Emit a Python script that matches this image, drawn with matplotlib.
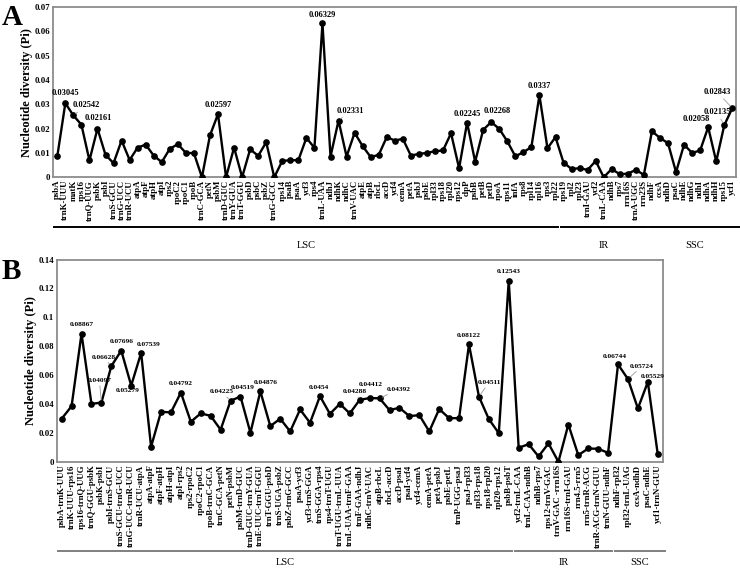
import numpy as np
import matplotlib.pyplot as plt
import matplotlib.transforms as mtransforms

plt.rcParams['font.family'] = ['Liberation Serif', 'DejaVu Serif']
plt.rcParams['font.weight'] = 'bold'

# ---- panel A: genes ----
genes_a = ['psbA', 'trnK-UUU', 'matK', 'rps16', 'trnQ-UUG', 'psbK', 'psbI', 'trnS-GCU',
           'trnG-UCC', 'trnR-UCU', 'atpA', 'atpF', 'atpH', 'atpI', 'rps2', 'rpoC2', 'rpoC1',
           'rpoB', 'trnC-GCA', 'petN', 'psbM', 'trnD-GUC', 'trnY-GUA', 'trnT-GGU', 'psbD',
           'psbC', 'psbZ', 'trnG-GCC', 'rps14', 'psaB', 'psaA', 'ycf3', 'rps4', 'trnL-UAA',
           'ndhJ', 'ndhK', 'ndhC', 'trnV-UAC', 'atpE', 'atpB', 'rbcL', 'accD', 'ycf4', 'cemA',
           'petA', 'psbJ', 'psbE', 'rpl33', 'rps18', 'rpl20', 'rps12', 'clpP', 'psbB', 'petB',
           'petD', 'rpoA', 'rps11', 'infA', 'rps8', 'rpl14', 'rpl16', 'rps3', 'rpl22',
           'rps19', 'rpl2', 'rpl23', 'trnI-GAU', 'ycf2', 'trnL-CAA', 'ndhB', 'rps7', 'rrn16S',
           'trnA-UGC', 'rrn23S',
           'ndhF', 'ccsA', 'ndhD', 'psaC', 'ndhE', 'ndhG', 'ndhI', 'ndhA', 'ndhH', 'rps15', 'ycf1']
pi_a = [0.0086, 0.03045, 0.02542, 0.02161, 0.0069, 0.0200, 0.0092, 0.0058, 0.0151, 0.0071,
        0.0122, 0.0134, 0.0089, 0.0062, 0.0117, 0.0136, 0.0100, 0.0099, 0.0, 0.0172,
        0.02597, 0.0, 0.0122, 0.0, 0.0115, 0.0088, 0.0144, 0.0, 0.0067, 0.0070,
        0.0070, 0.0162, 0.0121, 0.06329, 0.0085, 0.02331, 0.0085, 0.0183, 0.0128, 0.0083,
        0.0092, 0.0165, 0.0151, 0.0158, 0.0089, 0.0096, 0.0100, 0.0107, 0.0110, 0.0181,
        0.0037, 0.02245, 0.0064, 0.0195, 0.02268, 0.0199, 0.0148, 0.0086, 0.0103, 0.0124,
        0.0337, 0.0119, 0.0165,
        0.0060, 0.0034, 0.0037, 0.0030, 0.0067, 0.0, 0.0034, 0.0012, 0.0015, 0.0030, 0.0010,
        0.0189, 0.0162, 0.0140, 0.0021, 0.0134, 0.0100, 0.0110, 0.02058, 0.0065, 0.02135,
        0.02843]
regions_a = [('LSC', 1, 63), ('IR', 64, 74), ('SSC', 75, 85)]
# (point number, label, dx px, dy px, leader line)
notes_a = [(2, '0.03045', 0, 10, False), (3, '0.02542', 13, 10, True),
           (4, '0.02161', 17, 7, False), (21, '0.02597', 0, 9, False),
           (34, '0.06329', 0, 8, False), (36, '0.02331', 12, 10, True),
           (52, '0.02245', 0, 9, False), (55, '0.02268', 6, 11, False),
           (61, '0.0337', 0, 9, False), (82, '0.02058', -12, 8, False),
           (84, '0.02135', -7, 13, True), (85, '0.02843', -15, 16, True)]

# ---- panel B: intergenic regions ----
spacers_b = ['psbA-trnK-UUU', 'trnK-UUU-rps16', 'rps16-trnQ-UUG', 'trnQ-GGU-psbK', 'psbK-psbI',
             'psbI-trnS-GCU', 'trnS-GCU-trnG-UCC', 'trnG-UCC-trnR-UCU', 'trnR-UCU-atpA',
             'atpA-atpF', 'atpF-atpH', 'atpH-atpI', 'atpI-rps2', 'rps2-rpoC2', 'rpoC2-rpoC1',
             'rpoB-trnC-GCA', 'trnC-GCA-petN', 'petN-psbM', 'psbM-trnD-GUC',
             'trnD-GUC-trnY-GUA', 'trnE-UUC-trnT-GGU', 'trnT-GGU-psbD', 'trnS-UGA-psbZ',
             'psbZ-trnG-GCC', 'psaA-ycf3', 'ycf3-trnS-GGA', 'trnS-GGA-rps4', 'rps4-trnT-UGU',
             'trnT-UGU-trnL-UUA', 'trnL-UAA-trnF-GAA', 'trnF-GAA-ndhJ', 'ndhC-trnV-UAC',
             'atpB-rbcL', 'rbcL-accD', 'accD-psaI', 'psaI-ycf4', 'ycf4-cemA', 'cemA-petA',
             'petA-psbJ', 'psbE-petL', 'trnP-UGG-psaJ', 'psaJ-rpl33', 'rpl33-rps18',
             'rps18-rpl20', 'rpl20-rps12', 'psbB-psbT',
             'ycf2-trnL-CAA', 'trnL-CAA-ndhB', 'ndhB-rps7', 'rps12-trnV-GAC', 'trnV-GAC -rrn16S',
             'rrn16S-trnI-GAU', 'rrn4.5-rrn5', 'rrn5-trnR-ACG', 'trnR-ACG-trnN-GUU',
             'trnN-GUU-ndhF',
             'ndhF-rpl32', 'rpl32-trnL-UAG', 'ccsA-ndhD', 'psaC-ndhE', 'ycf1-trnN-GUU']
pi_b = [0.0298, 0.0385, 0.08867, 0.0401, 0.04097, 0.06628, 0.07696, 0.05279, 0.07539, 0.0104,
        0.0346, 0.0342, 0.04792, 0.0277, 0.0335, 0.0318, 0.0222, 0.04225, 0.04519, 0.0201,
        0.04876, 0.0247, 0.0298, 0.0210, 0.0362, 0.0270, 0.0454, 0.0332, 0.0401, 0.0335,
        0.04288, 0.04412, 0.04392, 0.0358, 0.0374, 0.0316, 0.0323, 0.0210, 0.0365, 0.0302,
        0.0302, 0.08122, 0.04511, 0.0295, 0.0198, 0.12543,
        0.0097, 0.0122, 0.0037, 0.0127, 0.0, 0.0258, 0.0046, 0.0092, 0.0090, 0.0062,
        0.06744, 0.05724, 0.0369, 0.05529, 0.0051]
regions_b = [('LSC', 1, 46), ('IR', 47, 56), ('SSC', 57, 61)]
notes_b = [(3, '0.08867', 0, 9, False), (5, '0.04097', -2, 22, True),
           (6, '0.06628', -8, 9, True), (7, '0.07696', 0, 9, False),
           (8, '0.05279', -4, -5, False), (9, '0.07539', 7, 8, False),
           (13, '0.04792', 0, 9, False), (18, '0.04225', -9, 9, True),
           (19, '0.04519', 2, 9, False), (21, '0.04876', 5, 9, False),
           (27, '0.0454', -1, 9, False), (31, '0.04288', -5, 8, True),
           (32, '0.04412', 1, 14, False), (33, '0.04392', 19, 9, True),
           (42, '0.08122', 0, 9, False), (43, '0.04511', 10, 14, True),
           (46, '0.12543', 0, 9, False), (57, '0.06744', -3, 8, False),
           (58, '0.05724', 14, 13, True), (60, '0.05529', 5, 5, False)]


def draw_panel(ax, labels, vals, notes, regions, ymax, ystep, line_y, text_y, reg_col,
               right_ext, note_size):
    x = np.arange(1, len(vals) + 1)
    ax.plot(x, vals, color='black', lw=1.7, marker='o', ms=3.8, zorder=3)
    ax.set_xlim(0.5, len(vals) + 0.5)
    ax.set_ylim(0, ymax)
    ax.set_xticks(x)
    ax.set_xticklabels(labels, rotation=90, fontsize=6.3, fontweight='bold')
    yt = np.arange(0, ymax + ystep / 2, ystep)
    ax.set_yticks(yt)
    ax.set_yticklabels(['%g' % round(v, 3) for v in yt], fontsize=6.3, fontweight='bold')
    ax.tick_params(length=0, pad=2)
    for s in ax.spines.values():
        s.set_color('#8c8c8c')
        s.set_linewidth(1.3)
    ax.set_ylabel('Nucleotide diversity (Pi)', fontsize=9, fontweight='bold', labelpad=1)

    for i, txt, dx, dy, lead in notes:
        ap = dict(arrowstyle='-', color='#999999', lw=0.6, shrinkA=0, shrinkB=2) if lead else None
        ax.annotate(txt, xy=(i, vals[i - 1]), xytext=(dx, dy), textcoords='offset pixels',
                    ha='center', va='center', fontsize=note_size, fontweight='bold',
                    arrowprops=ap, zorder=4)

    trans = mtransforms.blended_transform_factory(ax.transData, ax.transAxes)
    for k, (name, a, b) in enumerate(regions):
        x0 = a - 0.35
        x1 = b + 0.35 if k < len(regions) - 1 else b + right_ext
        ax.plot([x0, x1], [line_y, line_y], color=reg_col, lw=1.4,
                transform=trans, clip_on=False)
        ax.text((x0 + x1) / 2, text_y, name, transform=trans, ha='center', va='center',
                fontsize=7.5, fontweight='normal')


fig = plt.figure(figsize=(7.4, 5.68), dpi=100)
ax_a = fig.add_axes([0.072, 0.688, 0.923, 0.2995])
ax_b = fig.add_axes([0.0766, 0.187, 0.819, 0.356])

draw_panel(ax_a, genes_a, pi_a, notes_a, regions_a, 0.07, 0.01, -0.29, -0.40, 'black', 0.9, 6)
draw_panel(ax_b, spacers_b, pi_b, notes_b, regions_b, 0.14, 0.02, -0.44, -0.50, '#7f7f7f', 0.7, 5.3)

fig.text(0.002, 0.969, 'A', fontsize=21, fontweight='bold', va='center')
fig.text(0.002, 0.522, 'B', fontsize=21, fontweight='bold', va='center')

fig.savefig('out.png', dpi=100)
